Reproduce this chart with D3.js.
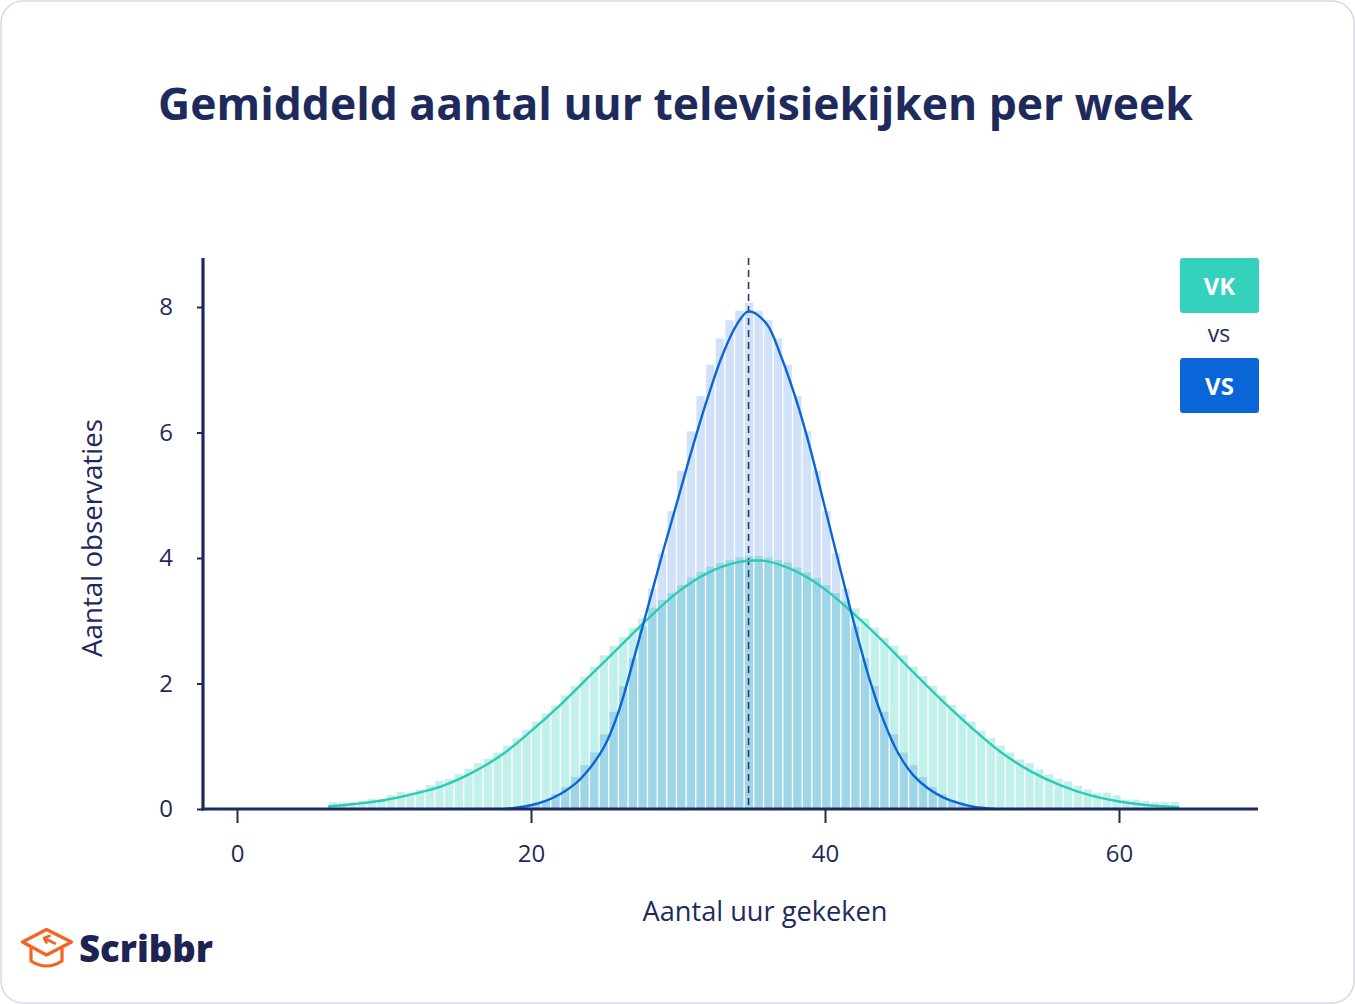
<!DOCTYPE html>
<html>
<head>
<meta charset="utf-8">
<script src="https://cdn.jsdelivr.net/npm/d3@7"></script>
<style>
  html, body { margin: 0; padding: 0; background: #ffffff; }
  svg { display: block; }
  text { font-family: "Open Sans", Lato, sans-serif; }
</style>
</head>
<body>
<svg id="chart" width="1355" height="1004"></svg>
<script>
// ---------------- DATA ----------------
const title = "Gemiddeld aantal uur televisiekijken per week";
const xLabel = "Aantal uur gekeken";
const yLabel = "Aantal observaties";
const seriesNames = ["VK", "VS"];
const xTicks = [0, 20, 40, 60];
const yTicks = [0, 2, 4, 6, 8];

// Histogram bins (shared): first bin edge and bin width in hours
const binStart = 6.21;
const binWidth = 0.658;

// VK histogram heights (88 bins)
const vkCounts = [
  0.11, 0.11, 0.11, 0.13, 0.16, 0.16, 0.22, 0.27, 0.26, 0.31,
  0.38, 0.45, 0.48, 0.56, 0.64, 0.73, 0.80, 0.90, 1.01, 1.13,
  1.26, 1.39, 1.52, 1.65, 1.81, 1.96, 2.11, 2.27, 2.45, 2.60,
  2.74, 2.89, 3.04, 3.21, 3.33, 3.44, 3.57, 3.69, 3.78, 3.86,
  3.92, 3.97, 4.01, 4.03, 4.03, 4.01, 3.97, 3.93, 3.85, 3.77,
  3.68, 3.57, 3.44, 3.31, 3.20, 3.04, 2.89, 2.73, 2.60, 2.45,
  2.27, 2.12, 1.96, 1.81, 1.66, 1.52, 1.39, 1.25, 1.13, 1.01,
  0.90, 0.79, 0.73, 0.63, 0.55, 0.48, 0.44, 0.37, 0.31, 0.26,
  0.26, 0.22, 0.15, 0.15, 0.13, 0.11, 0.11, 0.11
];

// VS histogram heights (88 bins, same edges)
const vsCounts = [
  0, 0, 0, 0, 0, 0, 0, 0, 0, 0,
  0, 0, 0, 0, 0, 0, 0, 0, 0, 0.02,
  0.05, 0.10, 0.14, 0.24, 0.35, 0.51, 0.70, 0.90, 1.19, 1.55,
  1.96, 2.40, 2.91, 3.51, 4.07, 4.75, 5.39, 6.02, 6.58, 7.08,
  7.50, 7.79, 7.94, 8.07, 7.94, 7.79, 7.50, 7.08, 6.58, 6.02,
  5.39, 4.75, 4.07, 3.51, 2.91, 2.40, 1.96, 1.55, 1.19, 0.90,
  0.70, 0.51, 0.35, 0.24, 0.14, 0.10, 0.05, 0.02, 0, 0,
  0, 0, 0, 0, 0, 0, 0, 0, 0, 0,
  0, 0, 0, 0, 0, 0, 0, 0
];

// Fitted curves
const vkCurveX = [6.2, 8, 10, 12, 14, 16, 18, 20, 22, 24, 26, 28, 30, 32, 34, 35.2, 36, 38, 40, 42, 44, 46, 48, 50, 52, 54, 56, 58, 60, 62, 64.1];
const vkCurveY = [0.04, 0.08, 0.14, 0.24, 0.37, 0.58, 0.86, 1.24, 1.66, 2.12, 2.58, 3.04, 3.46, 3.76, 3.93, 3.96, 3.95, 3.79, 3.50, 3.10, 2.66, 2.18, 1.72, 1.29, 0.90, 0.60, 0.38, 0.22, 0.12, 0.06, 0.03];

const vsCurveX = [18.2, 19, 20, 21, 22, 23, 24, 25, 26, 27, 28, 29, 30, 31, 32, 33, 34, 34.8, 36, 37, 38, 39, 40, 41, 42, 43, 44, 45, 46, 47, 48, 49, 50, 51, 51.6];
const vsCurveY = [0.00, 0.02, 0.06, 0.13, 0.24, 0.40, 0.65, 1.00, 1.58, 2.40, 3.26, 4.12, 4.94, 5.77, 6.54, 7.22, 7.72, 7.93, 7.74, 7.22, 6.55, 5.74, 4.80, 3.86, 2.94, 2.09, 1.40, 0.88, 0.54, 0.33, 0.19, 0.10, 0.04, 0.01, 0.00];

const meanLine = 34.8;

// ---------------- STYLE ----------------
const navy = "#1f2a5c";
const vkColor = "#34d1bd";
const vsColor = "#0a65d8";
const vkLine = "#2fc9b5";
const vsLine = "#0866d6";

const svg = d3.select("#chart");

function fitWidth(sel, size, width) {
  sel.attr("font-size", size);
  const w = sel.node().getComputedTextLength();
  sel.attr("font-size", size * width / w);
}

// card
svg.append("rect").attr("x", 1).attr("y", 1).attr("width", 1353).attr("height", 1002)
  .attr("rx", 22).attr("fill", "#ffffff").attr("stroke", "#d6dae6").attr("stroke-width", 1.5);

// scales
const x = d3.scaleLinear().domain([0, 60]).range([237, 1119]);
const y = d3.scaleLinear().domain([0, 8]).range([809, 307]);

// title
const t = svg.append("text").attr("x", 675.5).attr("y", 120)
  .attr("text-anchor", "middle").attr("fill", navy)
  .attr("font-family", "Lato, sans-serif")
  .attr("font-weight", 700).text(title);
fitWidth(t, 42, 1035);

// bars
const plot = svg.append("g");
const bins = vkCounts.map((v, i) => ({ x0: binStart + i * binWidth, x1: binStart + (i + 1) * binWidth, vk: v, vs: vsCounts[i] }));

plot.append("g").selectAll("rect").data(bins).join("rect")
  .attr("x", d => x(d.x0) + 0.6)
  .attr("width", d => x(d.x1) - x(d.x0) - 1.3)
  .attr("y", d => y(d.vk))
  .attr("height", d => y(0) - y(d.vk))
  .attr("fill", vkColor).attr("fill-opacity", 0.3);

plot.append("g").selectAll("rect").data(bins.filter(d => d.vs > 0)).join("rect")
  .attr("x", d => x(d.x0) + 0.6)
  .attr("width", d => x(d.x1) - x(d.x0) - 1.3)
  .attr("y", d => y(d.vs))
  .attr("height", d => y(0) - y(d.vs))
  .attr("fill", vsColor).attr("fill-opacity", 0.19);

// mean dashed line
svg.append("line").attr("x1", x(meanLine)).attr("x2", x(meanLine))
  .attr("y1", 258).attr("y2", 809)
  .attr("stroke", "#2e3a66").attr("stroke-width", 1.6).attr("stroke-dasharray", "7,5");

// curves
const line = d3.line().x(d => x(d[0])).y(d => y(d[1])).curve(d3.curveCatmullRom.alpha(0.5));
svg.append("path").datum(vkCurveX.map((v, i) => [v, vkCurveY[i]]))
  .attr("d", line).attr("fill", "none").attr("stroke", vkLine).attr("stroke-width", 2.4);
svg.append("path").datum(vsCurveX.map((v, i) => [v, vsCurveY[i]]))
  .attr("d", line).attr("fill", "none").attr("stroke", vsLine).attr("stroke-width", 2.4);

// axes
const yAxis = svg.append("g").attr("transform", "translate(203,0)")
  .call(d3.axisLeft(y).tickValues(yTicks).tickSize(6).tickPadding(24));
const xAxis = svg.append("g").attr("transform", "translate(0,809)")
  .call(d3.axisBottom(x).tickValues(xTicks).tickSize(14).tickPadding(22));
[yAxis, xAxis].forEach(g => {
  g.select(".domain").remove();
  g.selectAll(".tick line").attr("stroke", navy).attr("stroke-width", 2);
  g.selectAll(".tick text").attr("fill", navy).attr("font-size", 24)
    .attr("font-family", "'Open Sans', sans-serif");
});
svg.append("line").attr("x1", 203).attr("x2", 203).attr("y1", 258).attr("y2", 810.5)
  .attr("stroke", navy).attr("stroke-width", 3.2);
svg.append("line").attr("x1", 201.4).attr("x2", 1258).attr("y1", 809).attr("y2", 809)
  .attr("stroke", navy).attr("stroke-width", 3.2);

// axis labels
const xl = svg.append("text").attr("x", 765).attr("y", 921).attr("text-anchor", "middle")
  .attr("fill", navy).text(xLabel);
fitWidth(xl, 24, 245);
const yl = svg.append("text").attr("transform", "translate(102,538) rotate(-90)").attr("text-anchor", "middle")
  .attr("fill", navy).text(yLabel);
fitWidth(yl, 24, 238);

// legend
const leg = svg.append("g");
const legItems = [
  { name: seriesNames[0], color: vkColor, y: 258 },
  { name: seriesNames[1], color: vsColor, y: 358 }
];
legItems.forEach(it => {
  leg.append("rect").attr("x", 1180).attr("y", it.y).attr("width", 79).attr("height", 55)
    .attr("rx", 3).attr("fill", it.color);
  leg.append("text").attr("x", 1219.5).attr("y", it.y + 36.5).attr("text-anchor", "middle")
    .attr("fill", "#ffffff").attr("font-weight", 700).attr("font-size", 24).text(it.name);
});
leg.append("text").attr("x", 1219).attr("y", 342).attr("text-anchor", "middle")
  .attr("fill", navy).attr("font-size", 23).text("vs");

// logo
const logo = svg.append("g");
const orange = "#f26522";
logo.append("path")
  .attr("d", "M22.5,942 L46.5,929.5 L71.5,942 L46.5,955 Z")
  .attr("fill", "none").attr("stroke", orange).attr("stroke-width", 3.2).attr("stroke-linejoin", "round");
logo.append("path")
  .attr("d", "M31,947.5 L31,961 Q46.5,971 62,961 L62,947.5")
  .attr("fill", "none").attr("stroke", orange).attr("stroke-width", 3.2).attr("stroke-linejoin", "round").attr("stroke-linecap", "round");
logo.append("path")
  .attr("d", "M55,943.5 L45,938.5 M44,938 L49.5,936 M44,938 L46.5,942.5")
  .attr("fill", "none").attr("stroke", orange).attr("stroke-width", 2.6).attr("stroke-linecap", "round");
const lt = logo.append("text").attr("x", 79).attr("y", 962).attr("fill", "#1b2452")
  .attr("font-family", "Lato, sans-serif")
  .attr("font-weight", 900).text("Scribbr");
fitWidth(lt, 36, 134);
</script>
</body>
</html>
